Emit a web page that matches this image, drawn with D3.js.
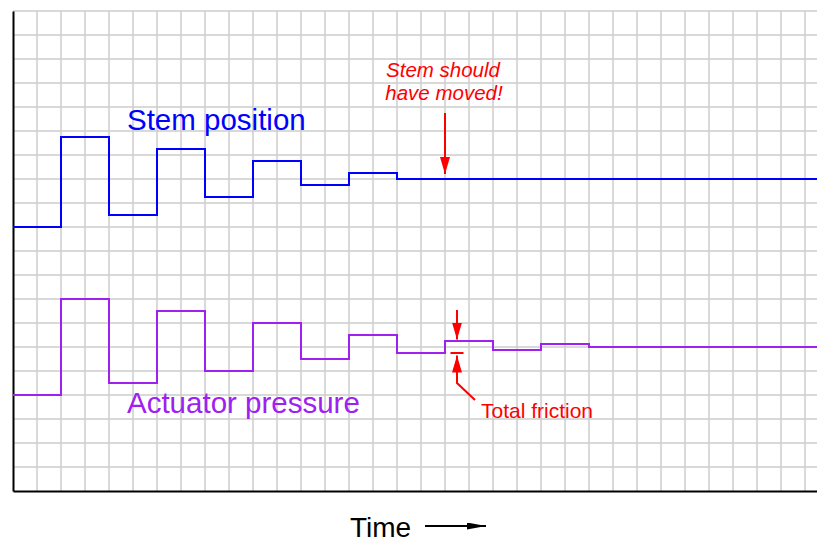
<!DOCTYPE html>
<html>
<head>
<meta charset="utf-8">
<script src="https://cdn.jsdelivr.net/npm/d3@7"></script>
<style>
  html, body { margin: 0; padding: 0; background: #fff; }
  svg { display: block; }
  text { font-family: "Liberation Sans", Arial, sans-serif; }
</style>
</head>
<body>
<svg id="chart" width="817" height="542"></svg>
<script>
// ---- Data (grid units: 1 unit = one grid square) ----
const stemTimes = [0, 2, 4, 6, 8, 10, 12, 14, 16, 33.5];
const stemValues = [11, 14.75, 11.5, 14.25, 12.25, 13.75, 12.75, 13.25, 13, 13];
const pressureTimes = [0, 2, 4, 6, 8, 10, 12, 14, 16, 18, 20, 22, 24, 33.5];
const pressureValues = [4, 8, 4.5, 7.5, 5, 7, 5.5, 6.5, 5.75, 6.25, 5.875, 6.125, 6, 6];
const xGridTicks = d3.range(0, 34, 1);
const yGridTicks = d3.range(0, 21, 1);
const labels = { stem: "Stem position", pressure: "Actuator pressure", time: "Time", friction: "Total friction", note1: "Stem should", note2: "have moved!" };

const svg = d3.select("#chart");
const x = d3.scaleLinear().domain([0, 33.5]).range([13, 817]);
const y = d3.scaleLinear().domain([0, 20]).range([491, 11]);

// defs: arrowheads
const defs = svg.append("defs");
function marker(id, color, w, h) {
  defs.append("marker").attr("id", id)
    .attr("viewBox", `0 0 ${h} ${w}`).attr("refX", h).attr("refY", w / 2)
    .attr("markerWidth", h).attr("markerHeight", w)
    .attr("markerUnits", "userSpaceOnUse").attr("orient", "auto")
    .append("path").attr("d", `M0,0L${h},${w / 2}L0,${w}Z`).attr("fill", color);
}
marker("redArrow", "#ff0000", 10, 17);
marker("blackArrow", "#000", 7, 19);

// grid
const grid = svg.append("g");
grid.selectAll("line.v").data(xGridTicks.filter(d => d > 0)).join("line")
  .attr("x1", d => x(d)).attr("x2", d => x(d)).attr("y1", y(20)).attr("y2", y(0))
  .attr("stroke", "#cccccc").attr("stroke-width", 1.5);
grid.selectAll("line.h").data(yGridTicks.filter(d => d > 0)).join("line")
  .attr("x1", x(0)).attr("x2", x(33.5)).attr("y1", d => y(d)).attr("y2", d => y(d))
  .attr("stroke", "#cccccc").attr("stroke-width", 1.5);

// axes (plain lines, no ticks)
const xAxis = d3.axisBottom(x).tickValues([]).tickSizeOuter(0);
const yAxis = d3.axisLeft(y).tickValues([]).tickSizeOuter(0);
svg.append("g").attr("transform", `translate(0,${y(0)})`).call(xAxis)
  .select(".domain").attr("stroke", "#000").attr("stroke-width", 2);
svg.append("g").attr("transform", `translate(${x(0)},0)`).call(yAxis)
  .select(".domain").attr("stroke", "#000").attr("stroke-width", 2);

// step lines
const line = d3.line().curve(d3.curveStepAfter).x(d => x(d[0])).y(d => y(d[1]));
svg.append("path").datum(stemTimes.map((t, i) => [t, stemValues[i]]))
  .attr("d", line).attr("fill", "none").attr("stroke", "#0000ff").attr("stroke-width", 2);
svg.append("path").datum(pressureTimes.map((t, i) => [t, pressureValues[i]]))
  .attr("d", line).attr("fill", "none").attr("stroke", "#a020f0").attr("stroke-width", 2);

// labels
svg.append("text").attr("x", 127).attr("y", 130).attr("font-size", 29.5).attr("fill", "#0000ff").text(labels.stem);
svg.append("text").attr("x", 127).attr("y", 413).attr("font-size", 29.5).attr("fill", "#a020f0").text(labels.pressure);
svg.append("text").attr("x", 350).attr("y", 537).attr("font-size", 28).attr("fill", "#000").text(labels.time);
svg.append("line").attr("x1", 425).attr("x2", 486).attr("y1", 526).attr("y2", 526)
  .attr("stroke", "#000").attr("stroke-width", 2).attr("marker-end", "url(#blackArrow)");

// "Stem should have moved!" note
svg.append("text").attr("x", 443).attr("y", 77).attr("text-anchor", "middle").attr("font-size", 20.5)
  .attr("font-style", "italic").attr("fill", "#ff0000").text(labels.note1);
svg.append("text").attr("x", 444).attr("y", 100).attr("text-anchor", "middle").attr("font-size", 20.5)
  .attr("font-style", "italic").attr("fill", "#ff0000").text(labels.note2);
svg.append("line").attr("x1", x(18)).attr("x2", x(18)).attr("y1", 113).attr("y2", y(13) - 5)
  .attr("stroke", "#ff0000").attr("stroke-width", 2).attr("marker-end", "url(#redArrow)");

// Total friction annotation
const fx = x(18.5);
svg.append("line").attr("x1", fx).attr("x2", fx).attr("y1", 310).attr("y2", y(6.25) - 1.5)
  .attr("stroke", "#ff0000").attr("stroke-width", 2).attr("marker-end", "url(#redArrow)");
svg.append("line").attr("x1", fx - 6.5).attr("x2", fx + 6.5).attr("y1", y(5.75)).attr("y2", y(5.75))
  .attr("stroke", "#ff0000").attr("stroke-width", 2);
svg.append("path").attr("d", `M${fx + 18},400L${fx},383L${fx},${y(5.75) + 2.5}`)
  .attr("fill", "none").attr("stroke", "#ff0000").attr("stroke-width", 2).attr("marker-end", "url(#redArrow)");
svg.append("text").attr("x", 481).attr("y", 418).attr("font-size", 21).attr("fill", "#ff0000").text(labels.friction);
</script>
</body>
</html>
